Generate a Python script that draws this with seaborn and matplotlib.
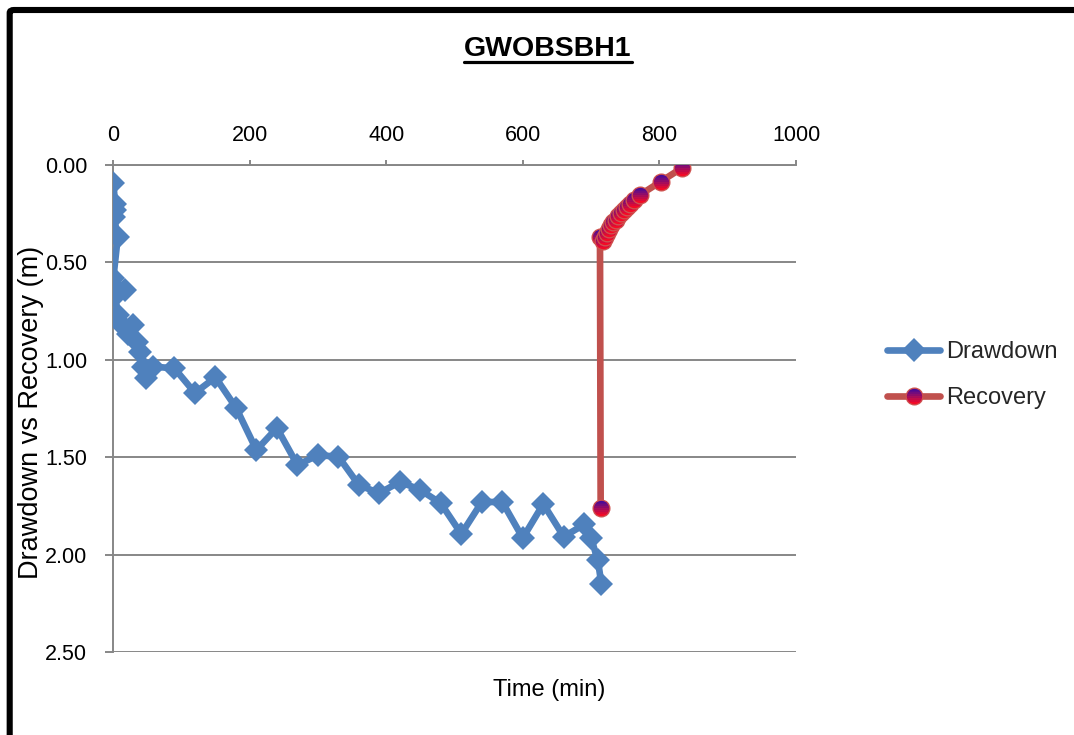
import numpy as np
import pandas as pd
import matplotlib
matplotlib.use("Agg")
import matplotlib.pyplot as plt
import seaborn as sns
from matplotlib.path import Path
from matplotlib.lines import Line2D
from matplotlib.patches import FancyBboxPatch
from matplotlib.legend_handler import HandlerTuple

# ---- data -------------------------------------------------------------
drawdown_time = [0.5, 3, 3, 1, 7, 0.5, 17, 3, 7, 8, 29, 22, 35, 40, 44, 49, 59,
                 90, 120, 150, 180, 210, 240, 270, 300, 330, 360, 390, 420, 450,
                 480, 510, 540, 570, 600, 630, 660, 690, 700, 710, 715]
drawdown_m = [0.09, 0.20, 0.23, 0.265, 0.37, 0.58, 0.64, 0.67, 0.77, 0.80, 0.82,
              0.87, 0.91, 0.96, 1.035, 1.095, 1.035, 1.044, 1.17, 1.09, 1.245,
              1.463, 1.35, 1.54, 1.49, 1.497, 1.643, 1.685, 1.626, 1.668, 1.737,
              1.894, 1.73, 1.73, 1.915, 1.74, 1.908, 1.845, 1.916, 2.03, 2.15]

recovery_time = [714, 713, 717, 720, 723, 726, 729, 732, 736, 740, 744, 748, 752,
                 757, 763, 771, 802, 833]
recovery_m = [1.76, 0.37, 0.39, 0.37, 0.35, 0.33, 0.31, 0.295, 0.28, 0.26, 0.245,
              0.23, 0.215, 0.20, 0.18, 0.155, 0.085, 0.015]

x_ticks = [0, 200, 400, 600, 800, 1000]
y_ticks = [0.0, 0.5, 1.0, 1.5, 2.0, 2.5]

title = "GWOBSBH1"
x_label = "Time (min)"
y_label = "Drawdown vs Recovery (m)"
series_names = ["Drawdown", "Recovery"]

# ---- style ------------------------------------------------------------
BLUE = "#4F81BD"
RED = "#C0504D"
EDGE = "#CF514E"
GRID = "#878787"
LW = 4.8
DIAMOND = 12.5
OUTER = 13.0
INNER = 11.0

sns.set_theme(style="white")
plt.rcParams["font.family"] = ["Liberation Sans", "DejaVu Sans"]

W, H = 1074, 735
fig = plt.figure(figsize=(W / 100, H / 100), dpi=100)
fig.patch.set_facecolor("white")

def fx(px):
    return px / W

def fy(py):
    return 1 - py / H

ax = fig.add_axes([fx(113), fy(652), fx(796) - fx(113), fy(165) - fy(652)])

dd_df = pd.DataFrame({"time": drawdown_time, "depth": drawdown_m})
rec_df = pd.DataFrame({"time": recovery_time, "depth": recovery_m})

sns.lineplot(data=dd_df, x="time", y="depth", sort=False, estimator=None,
             color=BLUE, linewidth=LW, marker="D", markersize=DIAMOND,
             markeredgewidth=0, markerfacecolor=BLUE, legend=False, ax=ax,
             zorder=3)

sns.lineplot(data=rec_df, x="time", y="depth", sort=False, estimator=None,
             color=RED, linewidth=LW, legend=False, ax=ax, zorder=4)


# gradient-filled circle markers built from horizontal bands
def band_marker(y_lo, y_hi, n=20):
    ys = np.linspace(y_lo, y_hi, n)
    xr = np.sqrt(np.clip(1 - ys ** 2, 0, 1))
    verts = [(1, 1), (-1, -1)]
    codes = [Path.MOVETO, Path.MOVETO]
    poly = list(zip(xr, ys)) + list(zip(-xr[::-1], ys[::-1]))
    verts += poly + [poly[0]]
    codes += [Path.MOVETO] + [Path.LINETO] * (len(poly) - 1) + [Path.CLOSEPOLY]
    return Path(verts, codes)


N_BANDS = 8
top_c = np.array([0.22, 0.04, 0.64])
bot_c = np.array([1.00, 0.04, 0.12])
edges = np.linspace(1, -1, N_BANDS + 1)
bands = []
for i in range(N_BANDS):
    hi = min(1, edges[i] + 0.03)
    lo = max(-1, edges[i + 1] - 0.03)
    frac = (i + 0.5) / N_BANDS
    col = top_c * (1 - frac) + bot_c * frac
    bands.append((band_marker(lo, hi), col))

z = 5
for t, d in zip(recovery_time, recovery_m):
    ax.plot([t], [d], ls="none", marker="o", markersize=OUTER,
            markerfacecolor=EDGE, markeredgewidth=0, zorder=z)
    for path, col in bands:
        ax.plot([t], [d], ls="none", marker=path, markersize=INNER,
                markerfacecolor=col, markeredgewidth=0, zorder=z + 0.01)
    z += 0.1

# ---- axes -------------------------------------------------------------
ax.set_xlim(0, 1000)
ax.set_ylim(2.5, 0)
ax.xaxis.tick_top()
ax.set_xticks(x_ticks)
ax.set_xticklabels([str(v) for v in x_ticks])
ax.set_yticks(y_ticks)
ax.set_yticklabels([f"{v:.2f}" for v in y_ticks])
ax.set_xlabel("")
ax.set_ylabel("")

ax.yaxis.grid(True, color=GRID, linewidth=1.4)
ax.xaxis.grid(False)
for side in ["right", "bottom"]:
    ax.spines[side].set_visible(False)
for side in ["left", "top"]:
    ax.spines[side].set_color(GRID)
    ax.spines[side].set_linewidth(1.4)

ax.tick_params(axis="x", which="both", top=True, bottom=False, direction="out",
               length=3.5, width=1.4, color=GRID, labelsize=15.5, pad=10,
               labelcolor="black")
ax.tick_params(axis="y", which="both", left=True, direction="out",
               length=5.5, width=1.4, color=GRID, labelsize=15.5, pad=13,
               labelcolor="black")

# ---- texts ------------------------------------------------------------
t_obj = fig.text(fx(548), fy(49), title, ha="center", va="center",
                 fontsize=20.5, fontweight="bold", color="black")
fig.text(fx(549), fy(690), x_label, ha="center", va="center",
         fontsize=17, color="black")
fig.text(fx(31), fy(412), y_label, ha="center", va="center", rotation=90,
         fontsize=19.5, color="black")

# underline under the title
fig.canvas.draw()
bb = t_obj.get_window_extent(renderer=fig.canvas.get_renderer())
fig.add_artist(Line2D([bb.x0 / W, bb.x1 / W], [fy(62), fy(62)],
                      transform=fig.transFigure, color="black", linewidth=2.3))

# ---- legend -----------------------------------------------------------
dd_handle = Line2D([], [], color=BLUE, linewidth=LW, marker="D",
                   markersize=DIAMOND, markeredgewidth=0)
rec_parts = [Line2D([], [], color=RED, linewidth=LW, marker="o",
                    markersize=OUTER, markerfacecolor=EDGE, markeredgewidth=0)]
for path, col in bands:
    rec_parts.append(Line2D([], [], ls="none", marker=path, markersize=INNER,
                            markerfacecolor=col, markeredgewidth=0))
leg = fig.legend([dd_handle, tuple(rec_parts)], series_names,
                 handler_map={tuple: HandlerTuple(ndivide=1, pad=0)},
                 loc="center left", bbox_to_anchor=(fx(887), fy(375)),
                 bbox_transform=fig.transFigure, frameon=False, fontsize=17,
                 handlelength=2.25, handletextpad=0.25, labelspacing=1.0,
                 borderpad=0, borderaxespad=0, numpoints=1)

# ---- outer frame ------------------------------------------------------
frame = FancyBboxPatch((fx(9.7), -0.2), 1.3, fy(10) + 0.2,
                       boxstyle="round,pad=0,rounding_size=0.004",
                       transform=fig.transFigure, fill=False,
                       edgecolor="black", linewidth=4.4, clip_on=False)
fig.add_artist(frame)

fig.savefig("out.png", dpi=100, facecolor="white")
